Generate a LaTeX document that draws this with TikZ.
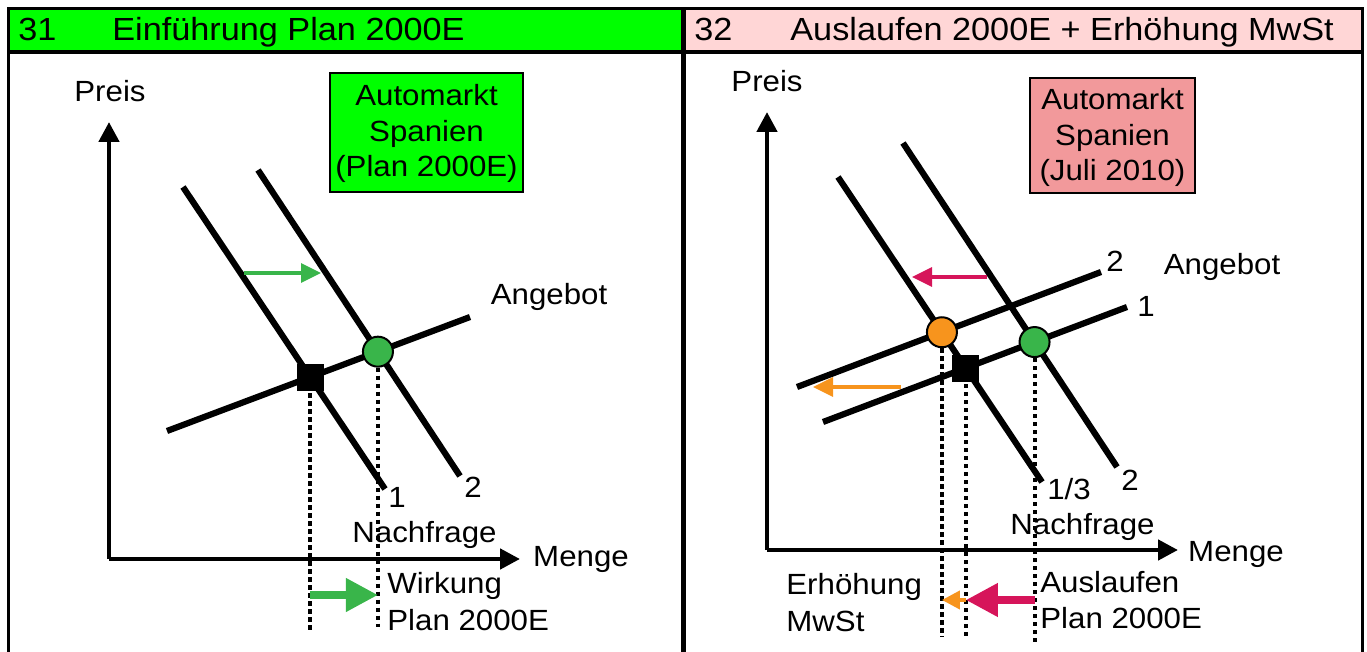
\documentclass[tikz,border=0pt]{standalone}
\usepackage{fontspec}
\setmainfont[FakeStretch=1.07]{Liberation Sans}
\usetikzlibrary{arrows.meta}
\definecolor{hdrgreen}{RGB}{0,255,0}
\definecolor{hdrpink}{RGB}{255,214,214}
\definecolor{boxpink}{RGB}{242,153,155}
\definecolor{mgreen}{RGB}{57,181,74}
\definecolor{mmagenta}{RGB}{214,21,90}
\definecolor{morange}{RGB}{247,148,29}
\begin{document}
\begin{tikzpicture}[x=0.5pt,y=-0.5pt,
  curve/.style={line width=3.1pt},
  axis/.style={line width=2.3pt,-{Triangle[length=10pt,width=10pt]}},
  guide/.style={line width=2pt,dash pattern=on 2.2pt off 1.8pt},
  lbl/.style={font=\fontsize{14.6}{18.5}\selectfont,inner sep=0pt,anchor=base},
  lblw/.style={lbl,anchor=base west},
  hdr/.style={font=\fontsize{16}{19}\selectfont,inner sep=0pt,anchor=base west},
  thin arrow/.style={line width=1.6pt,-{Triangle[length=10pt,width=9.5pt]}},
  fat arrow/.style={line width=3.6pt,-{Triangle[length=16pt,width=16pt]}},
  small arrow/.style={line width=2pt,-{Triangle[length=9pt,width=9pt]}},
  eqcircle/.style={circle,draw=black,line width=1pt,minimum size=15pt,inner sep=0pt},
  eqsquare/.style={rectangle,fill=black,minimum size=13.5pt,inner sep=0pt},
  infobox/.style={draw=black,line width=1pt}
]
\useasboundingbox (0,0) rectangle (1367,652);
% headers
\fill[hdrgreen] (9,9) rectangle (683,52);
\fill[hdrpink] (683,9) rectangle (1361,52);
\draw[line width=1.5pt] (8,660) -- (8,8.5) -- (1362,8.5) -- (1362,660);
\draw[line width=2.3pt] (8,52) -- (1362,52);
\draw[line width=2.6pt] (683.5,8) -- (683.5,660);
\node[hdr] (h1n) at (18,41) {31};
\node[hdr] (h1t) at (112,41) {Einführung Plan 2000E};
\node[hdr] (h2n) at (694,41) {32};
\node[hdr] (h2t) at (790,41) {Auslaufen 2000E + Erhöhung MwSt};

% ===== Panel 1 =====
\coordinate (o1) at (109,559);
\coordinate (y1) at (109,122);
\coordinate (x1) at (520,559);
\draw[axis] (o1) -- (y1);
\draw[axis] (o1) -- (x1);
\node[lbl] (p1) at (110,102) {Preis};
\node[lbl] (m1) at (581,567) {Menge};

\fill[hdrgreen] (330,73) rectangle (523,192);
\draw[infobox] (330,73) rectangle (523,192);
\node[lbl] (b1a) at (426.5,106) {Automarkt};
\node[lbl] (b1b) at (426.5,142) {Spanien};
\node[lbl] (b1c) at (426.5,177) {(Plan 2000E)};

\coordinate (d1a) at (183,187);
\coordinate (d1b) at (385,489);
\coordinate (d2a) at (258,170);
\coordinate (d2b) at (460,476);
\coordinate (s1a) at (167,431);
\coordinate (s1b) at (470,317);
\draw[curve] (d1a) -- (d1b);
\draw[curve] (d2a) -- (d2b);
\draw[curve] (s1a) -- (s1b);
\node[lbl] (l1) at (397,508) {1};
\node[lbl] (l2) at (473,497) {2};
\node[lbl] (ang1) at (549,305) {Angebot};
\node[lblw] (nf1) at (352,543) {Nachfrage};

\coordinate (e1) at (intersection of d1a--d1b and s1a--s1b);
\coordinate (e2) at (intersection of d2a--d2b and s1a--s1b);
\coordinate (g1) at (e1 |- 0,631);
\coordinate (g2) at (e2 |- 0,627);
\draw[guide] (e1) -- (g1);
\draw[guide] (e2) -- (g2);
\node[eqsquare] (sq1) at (e1) {};
\node[eqcircle,fill=mgreen] (c1) at (e2) {};

\coordinate (ga) at (244,273);
\coordinate (gb) at (321,273);
\draw[thin arrow,mgreen] (ga) -- (gb);
\coordinate (wa) at (e1 |- 0,595);
\coordinate (wb) at (e2 |- 0,595);
\draw[fat arrow,mgreen] (wa) -- (wb);
\node[lblw] (w1) at (387,593) {Wirkung};
\node[lblw] (w2) at (387,630) {Plan 2000E};

% ===== Panel 2 =====
\coordinate (o2) at (767,550);
\coordinate (y2) at (767,112);
\coordinate (x2) at (1178,550);
\draw[axis] (o2) -- (y2);
\draw[axis] (o2) -- (x2);
\node[lbl] (p2) at (767,92) {Preis};
\node[lbl] (m2) at (1236,561) {Menge};

\fill[boxpink] (1030,78) rectangle (1195,193);
\draw[infobox] (1030,78) rectangle (1195,193);
\node[lbl] (b2a) at (1112.5,110) {Automarkt};
\node[lbl] (b2b) at (1112.5,146) {Spanien};
\node[lbl] (b2c) at (1112.5,181) {(Juli 2010)};

\coordinate (q1a) at (838,177);
\coordinate (q1b) at (1042,482);
\coordinate (q2a) at (903,143);
\coordinate (q2b) at (1117,467);
\coordinate (t2a) at (797,387);
\coordinate (t2b) at (1101,272);
\coordinate (t1a) at (823,422);
\coordinate (t1b) at (1127,307);
\draw[curve] (q1a) -- (q1b);
\draw[curve] (q2a) -- (q2b);
\draw[curve] (t2a) -- (t2b);
\draw[curve] (t1a) -- (t1b);
\node[lbl] (k2) at (1115,272) {2};
\node[lbl] (k1) at (1146,317) {1};
\node[lbl] (k13) at (1069,500) {1/3};
\node[lbl] (k22) at (1130,490) {2};
\node[lbl] (ang2) at (1222,275) {Angebot};
\node[lblw] (nf2) at (1010,535) {Nachfrage};

\coordinate (f1) at (intersection of q1a--q1b and t2a--t2b);
\coordinate (f2) at (intersection of q1a--q1b and t1a--t1b);
\coordinate (f3) at (intersection of q2a--q2b and t1a--t1b);
\draw[guide] (f1) -- (f1 |- 0,637);
\draw[guide] (f2) -- (f2 |- 0,640);
\draw[guide] (f3) -- (f3 |- 0,645);
\node[eqcircle,fill=morange] (c2) at (f1) {};
\node[eqsquare] (sq2) at (f2) {};
\node[eqcircle,fill=mgreen] (c3) at (f3) {};

\coordinate (ma) at (987,277);
\coordinate (mb) at (912,277);
\draw[thin arrow,mmagenta] (ma) -- (mb);
\coordinate (oa) at (901,387);
\coordinate (ob) at (813,387);
\draw[thin arrow,morange] (oa) -- (ob);

\coordinate (fa) at (f3 |- 0,600);
\coordinate (fb) at (f2 |- 0,600);
\coordinate (fc) at (f1 |- 0,600);
\draw[fat arrow,mmagenta] (fa) -- (fb);
\draw[small arrow,morange] (fb) -- (fc);
\node[lblw] (er1) at (786,595) {Erhöhung};
\node[lblw] (er2) at (786,632) {MwSt};
\node[lblw] (au1) at (1040,592) {Auslaufen};
\node[lblw] (au2) at (1040,628) {Plan 2000E};
\end{tikzpicture}
\end{document}
